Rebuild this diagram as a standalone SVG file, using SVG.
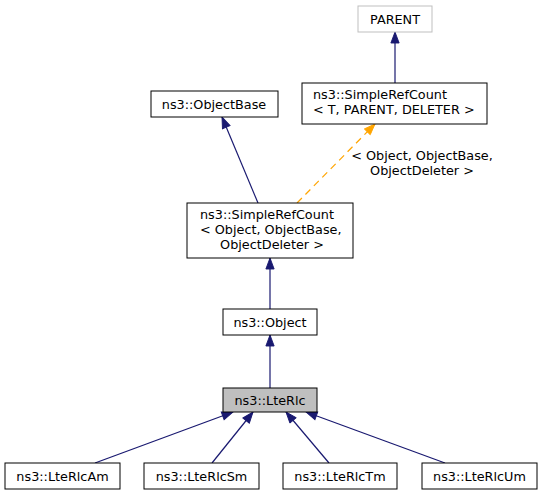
<svg xmlns="http://www.w3.org/2000/svg" width="543" height="496" viewBox="0 0 543 496">
<style>
.n rect{fill:#fff;stroke:#000;stroke-width:1}
text{font-family:"DejaVu Sans","Liberation Sans",sans-serif;font-size:12.8px;fill:#000}
.m{text-anchor:middle}
.e{fill:none;stroke:#191970;stroke-width:1.2}
.d{fill:none;stroke:#ffa500;stroke-width:1.2;stroke-dasharray:7,5}
</style>
<defs>
<marker id="a" markerUnits="userSpaceOnUse" markerWidth="13" markerHeight="11" refX="12" refY="5" orient="auto" viewBox="-1 -1 14 12"><path d="M0,0.5 L12,5 L0,9.5 z" fill="#191970" stroke="#191970"/></marker>
<marker id="o" markerUnits="userSpaceOnUse" markerWidth="13" markerHeight="11" refX="12" refY="5" orient="auto" viewBox="-1 -1 14 12"><path d="M0,0.5 L12,5 L0,9.5 z" fill="#ffa500" stroke="#ffa500"/></marker>
</defs>
<rect width="543" height="496" fill="#fff"/>
<g id="edges">
<path class="e" d="M395,83 L395,32" marker-end="url(#a)"/>
<path class="e" d="M258,203 L222,117" marker-end="url(#a)"/>
<path class="d" d="M297,203 L375,124" marker-end="url(#o)"/>
<text class="m" x="422" y="160">&lt; Object, ObjectBase,</text>
<text class="m" x="422" y="175">ObjectDeleter &gt;</text>
<path class="e" d="M270,309 L270,258" marker-end="url(#a)"/>
<path class="e" d="M270,388 L270,335" marker-end="url(#a)"/>
<path class="e" d="M95,463 L233,412" marker-end="url(#a)"/>
<path class="e" d="M212,463 L253,412" marker-end="url(#a)"/>
<path class="e" d="M329,463 L286,412" marker-end="url(#a)"/>
<path class="e" d="M445,463 L306,412" marker-end="url(#a)"/>
</g>
<g id="parent" class="n"><rect x="358" y="6" width="74" height="26" style="stroke:#bfbfbf"/><text class="m" x="395" y="24">PARENT</text></g>
<g id="simplerefcount_t" class="n"><rect x="302" y="83" width="185" height="41"/><text x="313" y="99">ns3::SimpleRefCount</text><text x="313" y="114">&lt; T, PARENT, DELETER &gt;</text></g>
<g id="objectbase" class="n"><rect x="151" y="91" width="127" height="26"/><text class="m" x="214" y="108.5">ns3::ObjectBase</text></g>
<g id="simplerefcount_obj" class="n"><rect x="187" y="203" width="166" height="55"/><text x="200" y="219">ns3::SimpleRefCount</text><text x="200" y="234">&lt; Object, ObjectBase,</text><text class="m" x="272" y="249">ObjectDeleter &gt;</text></g>
<g id="object" class="n"><rect x="223" y="309" width="94" height="26"/><text class="m" x="270" y="326.5">ns3::Object</text></g>
<g id="lterlc" class="n"><rect x="223" y="388" width="94" height="24" style="fill:#bfbfbf"/><text class="m" x="270" y="404.5">ns3::LteRlc</text></g>
<g id="lterlcam" class="n"><rect x="5" y="463" width="115" height="26"/><text class="m" x="62.5" y="480.5">ns3::LteRlcAm</text></g>
<g id="lterlcsm" class="n"><rect x="144" y="463" width="115" height="26"/><text class="m" x="201.5" y="480.5">ns3::LteRlcSm</text></g>
<g id="lterlctm" class="n"><rect x="283" y="463" width="114" height="26"/><text class="m" x="340" y="480.5">ns3::LteRlcTm</text></g>
<g id="lterlcum" class="n"><rect x="422" y="463" width="115" height="26"/><text class="m" x="479.5" y="480.5">ns3::LteRlcUm</text></g>
</svg>
